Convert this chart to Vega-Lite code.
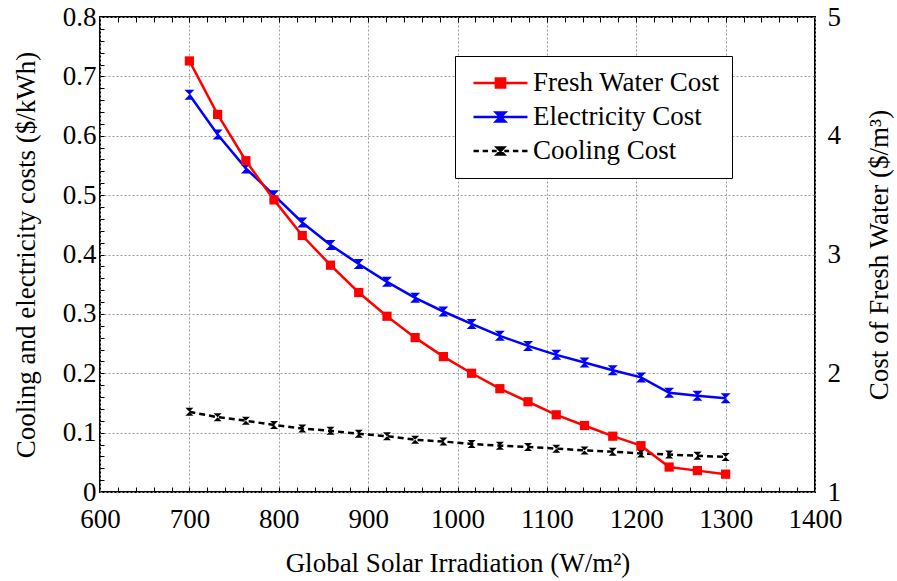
{
  "$schema": "https://vega.github.io/schema/vega-lite/v6.json",
  "width": 715,
  "height": 475,
  "autosize": "none",
  "padding": {"left": 100, "top": 17, "right": 82, "bottom": 89},
  "background": "white",
  "config": {
    "view": {"stroke": "black", "strokeWidth": 2},
    "font": "Times New Roman",
    "axis": {
      "labelFont": "Times New Roman",
      "labelFontSize": 27,
      "labelColor": "black",
      "titleFont": "Times New Roman",
      "titleFontSize": 27,
      "titleFontWeight": "normal",
      "titleColor": "black",
      "gridColor": "#9a9a9a",
      "gridDash": [2, 2],
      "gridWidth": 1,
      "tickColor": "black",
      "tickWidth": 1
    }
  },
  "datasets": {
    "costs": [
      {"irradiance": 700, "series": "Fresh Water Cost", "cost": 4.63},
      {"irradiance": 731.6, "series": "Fresh Water Cost", "cost": 4.18},
      {"irradiance": 763.2, "series": "Fresh Water Cost", "cost": 3.79},
      {"irradiance": 794.7, "series": "Fresh Water Cost", "cost": 3.46},
      {"irradiance": 826.3, "series": "Fresh Water Cost", "cost": 3.16},
      {"irradiance": 857.9, "series": "Fresh Water Cost", "cost": 2.91},
      {"irradiance": 889.5, "series": "Fresh Water Cost", "cost": 2.68},
      {"irradiance": 921.1, "series": "Fresh Water Cost", "cost": 2.48},
      {"irradiance": 952.6, "series": "Fresh Water Cost", "cost": 2.3},
      {"irradiance": 984.2, "series": "Fresh Water Cost", "cost": 2.14},
      {"irradiance": 1015.8, "series": "Fresh Water Cost", "cost": 2.0},
      {"irradiance": 1047.4, "series": "Fresh Water Cost", "cost": 1.87},
      {"irradiance": 1078.9, "series": "Fresh Water Cost", "cost": 1.76},
      {"irradiance": 1110.5, "series": "Fresh Water Cost", "cost": 1.65},
      {"irradiance": 1142.1, "series": "Fresh Water Cost", "cost": 1.56},
      {"irradiance": 1173.7, "series": "Fresh Water Cost", "cost": 1.47},
      {"irradiance": 1205.3, "series": "Fresh Water Cost", "cost": 1.39},
      {"irradiance": 1236.8, "series": "Fresh Water Cost", "cost": 1.21},
      {"irradiance": 1268.4, "series": "Fresh Water Cost", "cost": 1.18},
      {"irradiance": 1300, "series": "Fresh Water Cost", "cost": 1.15},
      {"irradiance": 700, "series": "Electricity Cost", "cost": 0.669},
      {"irradiance": 731.6, "series": "Electricity Cost", "cost": 0.602},
      {"irradiance": 763.2, "series": "Electricity Cost", "cost": 0.545},
      {"irradiance": 794.7, "series": "Electricity Cost", "cost": 0.5},
      {"irradiance": 826.3, "series": "Electricity Cost", "cost": 0.454},
      {"irradiance": 857.9, "series": "Electricity Cost", "cost": 0.416},
      {"irradiance": 889.5, "series": "Electricity Cost", "cost": 0.384},
      {"irradiance": 921.1, "series": "Electricity Cost", "cost": 0.354},
      {"irradiance": 952.6, "series": "Electricity Cost", "cost": 0.327},
      {"irradiance": 984.2, "series": "Electricity Cost", "cost": 0.304},
      {"irradiance": 1015.8, "series": "Electricity Cost", "cost": 0.283},
      {"irradiance": 1047.4, "series": "Electricity Cost", "cost": 0.263},
      {"irradiance": 1078.9, "series": "Electricity Cost", "cost": 0.246},
      {"irradiance": 1110.5, "series": "Electricity Cost", "cost": 0.231},
      {"irradiance": 1142.1, "series": "Electricity Cost", "cost": 0.218},
      {"irradiance": 1173.7, "series": "Electricity Cost", "cost": 0.205},
      {"irradiance": 1205.3, "series": "Electricity Cost", "cost": 0.193},
      {"irradiance": 1236.8, "series": "Electricity Cost", "cost": 0.167},
      {"irradiance": 1268.4, "series": "Electricity Cost", "cost": 0.162},
      {"irradiance": 1300, "series": "Electricity Cost", "cost": 0.158},
      {"irradiance": 700, "series": "Cooling Cost", "cost": 0.135},
      {"irradiance": 731.6, "series": "Cooling Cost", "cost": 0.126},
      {"irradiance": 763.2, "series": "Cooling Cost", "cost": 0.12},
      {"irradiance": 794.7, "series": "Cooling Cost", "cost": 0.113},
      {"irradiance": 826.3, "series": "Cooling Cost", "cost": 0.107},
      {"irradiance": 857.9, "series": "Cooling Cost", "cost": 0.103},
      {"irradiance": 889.5, "series": "Cooling Cost", "cost": 0.098},
      {"irradiance": 921.1, "series": "Cooling Cost", "cost": 0.094},
      {"irradiance": 952.6, "series": "Cooling Cost", "cost": 0.088},
      {"irradiance": 984.2, "series": "Cooling Cost", "cost": 0.085},
      {"irradiance": 1015.8, "series": "Cooling Cost", "cost": 0.081},
      {"irradiance": 1047.4, "series": "Cooling Cost", "cost": 0.078},
      {"irradiance": 1078.9, "series": "Cooling Cost", "cost": 0.076},
      {"irradiance": 1110.5, "series": "Cooling Cost", "cost": 0.073},
      {"irradiance": 1142.1, "series": "Cooling Cost", "cost": 0.07},
      {"irradiance": 1173.7, "series": "Cooling Cost", "cost": 0.068},
      {"irradiance": 1205.3, "series": "Cooling Cost", "cost": 0.065},
      {"irradiance": 1236.8, "series": "Cooling Cost", "cost": 0.063},
      {"irradiance": 1268.4, "series": "Cooling Cost", "cost": 0.061},
      {"irradiance": 1300, "series": "Cooling Cost", "cost": 0.059}
    ]
  },
  "data": {"name": "costs"},
  "resolve": {
    "scale": {"y": "independent"},
    "axis": {"x": "independent", "y": "independent"}
  },
  "layer": [
    {
      "transform": [{"filter": "datum.series === 'Electricity Cost'"}],
      "mark": {"type": "point", "opacity": 0},
      "encoding": {
        "x": {
          "field": "irradiance", "type": "quantitative",
          "scale": {"domain": [600, 1400], "nice": false, "zero": false},
          "axis": {
            "orient": "top", "title": null, "labels": false, "grid": false, "domain": false,
            "ticks": true, "tickSize": -5,
            "values": [620, 640, 660, 680, 700, 720, 740, 760, 780, 800, 820, 840, 860, 880, 900, 920, 940, 960, 980, 1000, 1020, 1040, 1060, 1080, 1100, 1120, 1140, 1160, 1180, 1200, 1220, 1240, 1260, 1280, 1300, 1320, 1340, 1360, 1380]
          }
        },
        "y": {
          "field": "cost", "type": "quantitative",
          "scale": {"domain": [0, 0.8], "nice": false, "zero": false},
          "axis": {
            "orient": "left", "title": null, "labels": false, "grid": false, "domain": false,
            "ticks": true, "tickSize": -4,
            "values": [0.02, 0.04, 0.06, 0.08, 0.1, 0.12, 0.14, 0.16, 0.18, 0.2, 0.22, 0.24, 0.26, 0.28, 0.3, 0.32, 0.34, 0.36, 0.38, 0.4, 0.42, 0.44, 0.46, 0.48, 0.5, 0.52, 0.54, 0.56, 0.58, 0.6, 0.62, 0.64, 0.66, 0.68, 0.7, 0.72, 0.74, 0.76, 0.78]
          }
        }
      }
    },
    {
      "transform": [{"filter": "datum.series === 'Electricity Cost'"}],
      "mark": {"type": "point", "opacity": 0},
      "encoding": {
        "x": {
          "field": "irradiance", "type": "quantitative",
          "scale": {"domain": [600, 1400], "nice": false, "zero": false},
          "axis": {
            "orient": "bottom", "title": null, "labels": false, "grid": false, "domain": false,
            "ticks": true, "tickSize": -5,
            "values": [620, 640, 660, 680, 700, 720, 740, 760, 780, 800, 820, 840, 860, 880, 900, 920, 940, 960, 980, 1000, 1020, 1040, 1060, 1080, 1100, 1120, 1140, 1160, 1180, 1200, 1220, 1240, 1260, 1280, 1300, 1320, 1340, 1360, 1380]
          }
        },
        "y": {
          "field": "cost", "type": "quantitative",
          "scale": {"domain": [0, 0.8], "nice": false, "zero": false},
          "axis": null
        }
      }
    },
    {
      "transform": [{"filter": "datum.series === 'Electricity Cost'"}],
      "mark": {"type": "line", "strokeWidth": 2.5},
      "encoding": {
        "x": {
          "field": "irradiance", "type": "quantitative",
          "scale": {"domain": [600, 1400], "nice": false, "zero": false},
          "axis": {
            "orient": "bottom", "title": "Global Solar Irradiation (W/m²)",
            "values": [600, 700, 800, 900, 1000, 1100, 1200, 1300, 1400],
            "format": "d",
            "labelFont": "Times New Roman", "titleFont": "Times New Roman",
            "grid": true, "ticks": false, "domain": false,
            "labelPadding": 14, "titlePadding": 18, "labelFlush": false, "labelOverlap": false
          }
        },
        "y": {
          "field": "cost", "type": "quantitative",
          "scale": {"domain": [0, 0.8], "nice": false, "zero": false},
          "axis": {
            "orient": "left", "title": "Cooling and electricity costs ($/kWh)",
            "values": [0, 0.1, 0.2, 0.3, 0.4, 0.5, 0.6, 0.7, 0.8],
            "format": "~g",
            "labelFont": "Times New Roman", "titleFont": "Times New Roman",
            "grid": true, "ticks": false, "domain": false,
            "labelPadding": 4, "titlePadding": 22, "labelFlush": false, "labelOverlap": false
          }
        },
        "color": {
          "field": "series", "type": "nominal",
          "scale": {
            "domain": ["Fresh Water Cost", "Electricity Cost", "Cooling Cost"],
            "range": ["#ff0000", "#0000ff", "#000000"]
          },
          "legend": {
            "title": null,
            "orient": "none",
            "legendX": 355,
            "legendY": 39,
            "padding": 12,
            "strokeColor": "black",
            "fillColor": "white",
            "labelFont": "Times New Roman",
            "labelFontSize": 27,
            "labelColor": "black",
            "labelLimit": 400,
            "labelOffset": 4,
            "symbolSize": 2916,
            "symbolOffset": 5,
            "symbolStrokeWidth": 2.5,
            "clipHeight": 30,
            "rowPadding": 4,
            "encode": {
              "symbols": {
                "update": {
                  "shape": {"signal": "datum.value === 'Fresh Water Cost' ? 'M-1,0L1,0M-0.17,-0.17L0.17,-0.17L0.17,0.17L-0.17,0.17Z' : datum.value === 'Electricity Cost' ? 'M-1,0L1,0M-0.17,-0.17L0.17,-0.17L-0.17,0.17L0.17,0.17Z' : 'M-1,0L-0.8,0M-0.66,0L-0.46,0M-0.32,0L-0.14,0M0.14,0L0.32,0M0.46,0L0.66,0M0.8,0L1,0M-0.13,-0.13L0.13,-0.13L-0.13,0.13L0.13,0.13Z'"},
                  "fill": {"signal": "scale('color', datum.value)"},
                  "stroke": {"signal": "scale('color', datum.value)"},
                  "opacity": {"value": 1}
                }
              }
            }
          }
        }
      }
    },
    {
      "transform": [{"filter": "datum.series === 'Electricity Cost'"}],
      "mark": {"type": "point", "shape": "M-1,-1L1,-1L-1,1L1,1Z", "filled": true, "size": 100, "opacity": 1},
      "encoding": {
        "x": {"field": "irradiance", "type": "quantitative", "scale": {"domain": [600, 1400], "nice": false, "zero": false}, "axis": null},
        "y": {"field": "cost", "type": "quantitative", "scale": {"domain": [0, 0.8], "nice": false, "zero": false}, "axis": null},
        "color": {"field": "series", "type": "nominal"}
      }
    },
    {
      "transform": [{"filter": "datum.series === 'Cooling Cost'"}],
      "mark": {"type": "line", "strokeWidth": 2.5, "strokeDash": [6, 4]},
      "encoding": {
        "x": {"field": "irradiance", "type": "quantitative", "scale": {"domain": [600, 1400], "nice": false, "zero": false}, "axis": null},
        "y": {"field": "cost", "type": "quantitative", "scale": {"domain": [0, 0.8], "nice": false, "zero": false}, "axis": null},
        "color": {"field": "series", "type": "nominal"}
      }
    },
    {
      "transform": [{"filter": "datum.series === 'Cooling Cost'"}],
      "mark": {"type": "point", "shape": "M-1,-1L1,-1L-1,1L1,1Z", "filled": true, "size": 64, "opacity": 1},
      "encoding": {
        "x": {"field": "irradiance", "type": "quantitative", "scale": {"domain": [600, 1400], "nice": false, "zero": false}, "axis": null},
        "y": {"field": "cost", "type": "quantitative", "scale": {"domain": [0, 0.8], "nice": false, "zero": false}, "axis": null},
        "color": {"field": "series", "type": "nominal"}
      }
    },
    {
      "transform": [{"filter": "datum.series === 'Fresh Water Cost'"}],
      "mark": {"type": "line", "strokeWidth": 2.5},
      "encoding": {
        "x": {"field": "irradiance", "type": "quantitative", "scale": {"domain": [600, 1400], "nice": false, "zero": false}, "axis": null},
        "y": {
          "field": "cost", "type": "quantitative",
          "scale": {"domain": [1, 5], "nice": false, "zero": false},
          "axis": {
            "orient": "right", "title": "Cost of Fresh Water ($/m³)",
            "values": [1, 2, 3, 4, 5],
            "labelFont": "Times New Roman", "titleFont": "Times New Roman",
            "grid": false, "ticks": false, "domain": false,
            "labelPadding": 12, "titlePadding": 26, "titleAngle": 270, "titleBaseline": "top",
            "labelFlush": false, "labelOverlap": false
          }
        },
        "color": {"field": "series", "type": "nominal"}
      }
    },
    {
      "transform": [{"filter": "datum.series === 'Fresh Water Cost'"}],
      "mark": {"type": "point", "shape": "square", "filled": true, "size": 85, "opacity": 1},
      "encoding": {
        "x": {"field": "irradiance", "type": "quantitative", "scale": {"domain": [600, 1400], "nice": false, "zero": false}, "axis": null},
        "y": {"field": "cost", "type": "quantitative", "scale": {"domain": [1, 5], "nice": false, "zero": false}, "axis": null},
        "color": {"field": "series", "type": "nominal"}
      }
    }
  ]
}
